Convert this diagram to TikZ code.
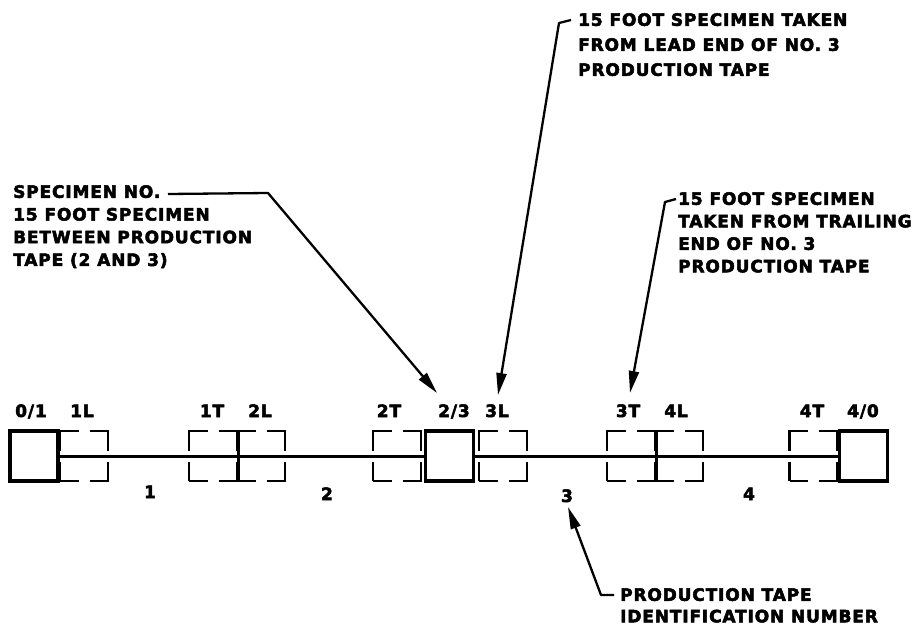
\documentclass[tikz,border=0pt]{standalone}
\usepackage{fontspec}
\setmainfont{DejaVu Sans}[LetterSpace=5, BoldFeatures={FakeBold=3}]
\usetikzlibrary{arrows.meta}
\begin{document}
\begin{tikzpicture}[x=1pt,y=-1pt,
  solidbox/.style={draw, line width=3.2pt, minimum width=48pt, minimum height=50pt, inner sep=0pt},
  dashbox/.style={draw, line width=2.8pt, minimum width=48pt, minimum height=50pt, inner sep=0pt,
                  dash pattern=on 38pt off 11pt, dash phase=19.5pt},
  sharededge/.style={line width=2.8pt},
  tapeline/.style={line width=3pt},
  leader/.style={line width=2.3pt, line join=round, -{Triangle[length=22pt,width=10pt]}},
  txt/.style={font=\bfseries\fontsize{17}{22.7}\selectfont, inner sep=0pt, align=left, anchor=north west},
  lbl/.style={font=\bfseries\fontsize{17}{19}\selectfont, inner sep=0pt, anchor=base}]
\useasboundingbox (0,0) rectangle (914,629);

% solid boxes (splices)
\node[solidbox] (b01) at (34,456) {};
\node[solidbox] (b23) at (449.5,456) {};
\node[solidbox] (b40) at (863.5,456) {};

% tape line
\draw[tapeline] (b01.east) -- (b23.west);
\draw[tapeline] (b23.east) -- (b40.west);

% dashed specimen boxes
\node[dashbox] (d1L) at (84,456) {};
\node[dashbox] (d1T) at (213,456) {};
\node[dashbox] (d2L) at (261,456) {};
\node[dashbox] (d2T) at (397,456) {};
\node[dashbox] (d3L) at (503,456) {};
\node[dashbox] (d3T) at (631,456) {};
\node[dashbox] (d4L) at (679,456) {};
\node[dashbox] (d4T) at (813.5,456) {};
\draw[sharededge] (d1T.north east) -- (d1T.south east);
\draw[sharededge] (d3T.north east) -- (d3T.south east);

% labels above boxes
\node[lbl] (l01) at (31,417) {0/1};
\node[lbl] (l1L) at (82,417) {1L};
\node[lbl] (l1T) at (212,417) {1T};
\node[lbl] (l2L) at (260,417) {2L};
\node[lbl] (l2T) at (389,417) {2T};
\node[lbl] (l23) at (454,417) {2/3};
\node[lbl] (l3L) at (497,417) {3L};
\node[lbl] (l3T) at (628,417) {3T};
\node[lbl] (l4L) at (676,417) {4L};
\node[lbl] (l4T) at (812,417) {4T};
\node[lbl] (l40) at (863,417) {4/0};

% tape numbers
\node[lbl] (n1) at (150,498) {1};
\node[lbl] (n2) at (327,500) {2};
\node[lbl] (n3) at (567,502) {3};
\node[lbl] (n4) at (749,500) {4};

% annotation texts
\node[txt] (tleft) at (13,185) {SPECIMEN NO.\\15 FOOT SPECIMEN\\BETWEEN PRODUCTION\\TAPE (2 AND 3)};
\node[txt, font=\bfseries\fontsize{17}{25}\selectfont] (ttop) at (578,13) {15 FOOT SPECIMEN TAKEN\\FROM LEAD END OF NO. 3\\PRODUCTION TAPE};
\node[txt, font=\bfseries\fontsize{17}{22.5}\selectfont] (tright) at (678,192) {15 FOOT SPECIMEN\\TAKEN FROM TRAILING\\END OF NO. 3\\PRODUCTION TAPE};
\node[txt, font=\bfseries\fontsize{17}{21.5}\selectfont] (tbot) at (620,588) {PRODUCTION TAPE\\IDENTIFICATION NUMBER};

% leader coordinates
\coordinate (a1s) at (168,194);
\coordinate (a1k) at (268,193);
\coordinate (a1t) at (437,393);
\coordinate (a2s) at (571,20);
\coordinate (a2k) at (559,23);
\coordinate (a2t) at (498,395);
\coordinate (a3s) at (676,199);
\coordinate (a3k) at (665,202);
\coordinate (a3t) at (630,393);
\coordinate (a4s) at (614,595);
\coordinate (a4k) at (601,595);
\coordinate (a4t) at (568,507);

% leaders
\draw[leader] (a1s) -- (a1k) -- (a1t);
\draw[leader] (a2s) -- (a2k) -- (a2t);
\draw[leader] (a3s) -- (a3k) -- (a3t);
\draw[leader] (a4s) -- (a4k) -- (a4t);
\end{tikzpicture}
\end{document}
